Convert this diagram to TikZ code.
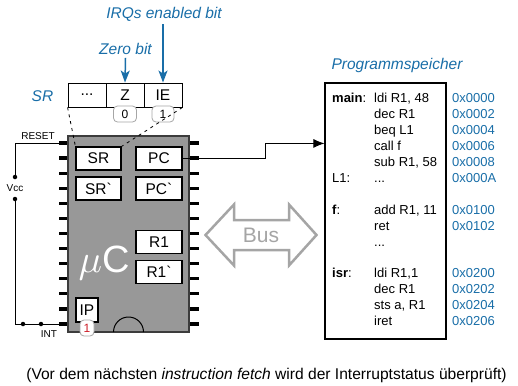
\documentclass[tikz,border=0pt]{standalone}
\usepackage{fontspec}
\setmainfont{Liberation Sans}
\newfontfamily\gravefont{Liberation Sans}[Ligatures=TeXOff]
\usetikzlibrary{arrows.meta,calc}
\definecolor{sblue}{RGB}{25,110,168}
\definecolor{chipgray}{RGB}{152,152,152}
\definecolor{chipedge}{RGB}{60,60,60}
\definecolor{busgray}{RGB}{165,165,165}
\definecolor{sred}{RGB}{205,30,40}
\begin{document}
\begin{tikzpicture}[x=1pt,y=-1pt,
  reg/.style={draw=black, line width=0.9pt, fill=white, minimum width=38pt, minimum height=24pt, inner sep=0pt, font=\fontsize{15.5}{16}\selectfont},
  ibox/.style={draw=black, line width=1.1pt, fill=white, minimum width=45pt, minimum height=23pt, inner sep=0pt, font=\fontsize{15.5}{16}\selectfont},
  bitbox/.style={draw=black!35, line width=0.8pt, rounded corners=4pt, fill=white, minimum width=23pt, minimum height=16pt, inner sep=0pt, font=\fontsize{12}{12}\selectfont},
  pin/.style={line width=3.2pt},
  wire/.style={line width=0.9pt},
  sdot/.style={circle, fill=black, inner sep=0pt, minimum size=4.5pt},
  small/.style={inner sep=0pt, font=\fontsize{10}{10}\selectfont},
  lbl/.style={text=sblue, inner sep=0pt, font=\fontsize{15.5}{16}\selectfont\itshape},
  barrow/.style={draw=sblue, line width=1.5pt, -{Stealth[length=12pt,width=9pt,inset=3pt]}},
  sdash/.style={line width=0.8pt, dash pattern=on 3pt off 4pt},
  mtext/.style={anchor=west, inner sep=0pt, text height=9.3pt, text depth=0pt, font=\fontsize{13}{13}\selectfont},
  maddr/.style={mtext, text=sblue}
]
\useasboundingbox (0,0) rectangle (518,385);

% pins
\foreach \i in {0,...,12} {
  \draw[pin] (59,{143+15.083*\i}) -- (68,{143+15.083*\i});
  \draw[pin] (189,{143+15.083*\i}) -- (199,{143+15.083*\i});
}
% chip
\node[draw=chipedge, fill=chipgray, line width=1.3pt, minimum width=121pt, minimum height=196pt, inner sep=0pt] (chip) at (128.5,234) {};
\draw[line width=1pt] (113.5,332) arc[start angle=180, end angle=360, radius=15];

% status register
\node[reg] (rdots) at (87,95) {...};
\node[reg] (rz) at (125,95) {Z};
\node[reg] (rie) at (163,95) {IE};
\node[lbl] (srl) at (42.5,96) {SR};
\node[bitbox] (b0) at (125,114) {0};
\node[bitbox, minimum width=22pt] (b1) at (163,114) {1};

\node[lbl] (zl) at (125.5,49) {Zero bit};
\node[lbl] (il) at (164,14) {IRQs enabled bit};
\draw[barrow] (zl.south) ++(0,3) coordinate (zs) -- (rz.north);
\draw[barrow] (il.south -| rie.north) ++(0,3) -- (rie.north);

% inner registers
\node[ibox] (isr) at (98.5,158.5) {SR};
\node[ibox, minimum width=46pt] (ipc) at (159,158.5) {PC};
\node[ibox] (isr2) at (98.5,188.5) {SR{\gravefont`}};
\node[ibox, minimum width=46pt] (ipc2) at (159,188.5) {PC{\gravefont`}};
\node[ibox, minimum width=46pt] (ir1) at (159,242) {R1};
\node[ibox, minimum width=46pt] (ir12) at (159,272) {R1{\gravefont`}};
\node[ibox, minimum width=22pt, minimum height=24pt] (iip) at (87,310) {IP};
\node[bitbox, minimum width=14pt, text=sred] (bip) at (87,328) {1};
\node[text=white, inner sep=0pt, font=\fontsize{38}{38}\selectfont] (uc) at (104,263) {{\fontsize{10}{10}\selectfont\scalebox{3.9}{$\mu$}}C};

\draw[sdash] (rdots.south west) -- (isr.north west);
\draw[sdash] (rie.south east) -- (isr.north east);

% wires left
\coordinate (rp) at (59,143);
\coordinate (ip) at (59,324);
\node[sdot] (d1) at (15,177) {};
\node[sdot] (d2) at (15,199) {};
\node[sdot] (d3) at (23,324) {};
\node[sdot] (d4) at (41,324) {};
\draw[wire] (rp) -| (d1);
\draw[wire] (d2) |- (ip);
\node[small] (reset) at (38,136.5) {RESET};
\node[small] (vcc) at (15,188) {Vcc};
\node[small] (int) at (49,334) {INT};

% Bus
\draw[line width=2.5pt, draw=busgray, fill=white, line join=miter]
  (205.5,235) -- (234,204.5) -- (234,220) -- (289,220) -- (289,204.5) -- (316.5,235)
  -- (289,265.5) -- (289,250) -- (234,250) -- (234,265.5) -- cycle;
\node[text=busgray, inner sep=0pt, font=\fontsize{21}{21}\selectfont] (bus) at (261,235.5) {Bus};

% memory
\node[draw=black, line width=1.1pt, minimum width=121pt, minimum height=256pt, inner sep=0pt] (mem) at (385.5,211) {};
\node[lbl] (ml) at (397,65) {Programmspeicher};
\coordinate (memin) at ($(mem.north west)+(0,61)$);
\draw[wire, -{Latex[length=11pt,width=9pt]}] (ipc.east) -- ++(83,0) |- (memin);

% memory rows
\node[mtext] (l0) at (332,98.3) {\textbf{main}:};
\node[mtext] (i0) at (374,98.3) {ldi R1, 48};
\node[maddr] (a0) at (452,98.3) {0x0000};
\node[mtext] (i1) at (374,114.2) {dec R1};
\node[maddr] (a1) at (452,114.2) {0x0002};
\node[mtext] (i2) at (374,130.1) {beq L1};
\node[maddr] (a2) at (452,130.1) {0x0004};
\node[mtext] (i3) at (374,146.0) {call f};
\node[maddr] (a3) at (452,146.0) {0x0006};
\node[mtext] (i4) at (374,161.9) {sub R1, 58};
\node[maddr] (a4) at (452,161.9) {0x0008};
\node[mtext] (l5) at (332,177.8) {L1:};
\node[mtext] (i5) at (374,177.8) {...};
\node[maddr] (a5) at (452,177.8) {0x000A};
\node[mtext] (l7) at (332,209.6) {\textbf{f}:};
\node[mtext] (i7) at (374,209.6) {add R1, 11};
\node[maddr] (a7) at (452,209.6) {0x0100};
\node[mtext] (i8) at (374,225.5) {ret};
\node[maddr] (a8) at (452,225.5) {0x0102};
\node[mtext] (i9) at (374,241.4) {...};
\node[mtext] (l11) at (332,273.2) {\textbf{isr}:};
\node[mtext] (i11) at (374,273.2) {ldi R1,1};
\node[maddr] (a11) at (452,273.2) {0x0200};
\node[mtext] (i12) at (374,289.1) {dec R1};
\node[maddr] (a12) at (452,289.1) {0x0202};
\node[mtext] (i13) at (374,305.0) {sts a, R1};
\node[maddr] (a13) at (452,305.0) {0x0204};
\node[mtext] (i14) at (374,320.9) {iret};
\node[maddr] (a14) at (452,320.9) {0x0206};

% caption
\node[inner sep=0pt, font=\fontsize{15.6}{16}\selectfont] (cap) at (266.5,375) {(Vor dem nächsten \textit{instruction fetch} wird der Interruptstatus überprüft)};
\end{tikzpicture}
\end{document}
